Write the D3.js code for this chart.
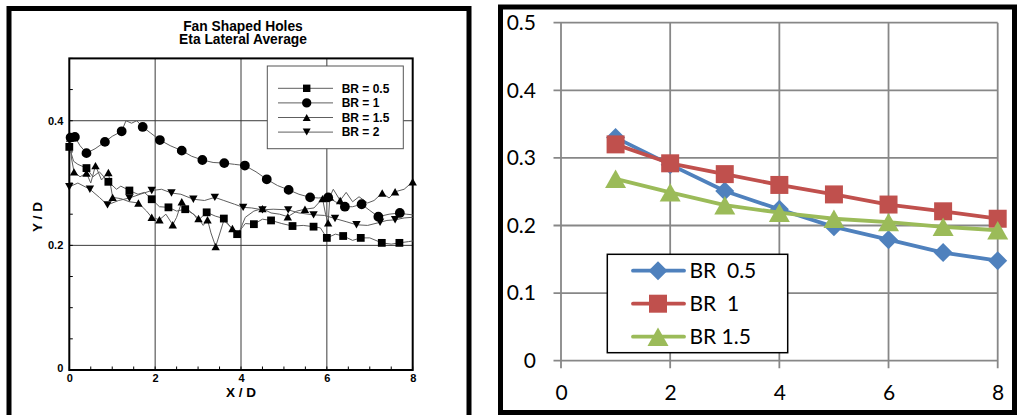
<!DOCTYPE html>
<html>
<head>
<meta charset="utf-8">
<script src="https://cdn.jsdelivr.net/npm/d3@7/dist/d3.min.js"></script>
<style>
  html, body { margin: 0; padding: 0; background: #fff; }
  svg { display: block; }
  .lp text { font-family: "Liberation Sans", Arial, sans-serif; font-weight: bold; fill: #000; }
  .rp text { font-family: Lato, "Open Sans", sans-serif; fill: #000; white-space: pre; }
</style>
</head>
<body>
<svg id="chart" width="1019" height="415"></svg>
<script>
// ---------- Left panel: Fan Shaped Holes, Eta lateral average ----------
const leftTitle = ["Fan Shaped Holes", "Eta Lateral Average"];
const leftXTicks = [0, 2, 4, 6, 8];
const leftYTicks = [0, 0.2, 0.4];
const leftXMinor = d3.range(0, 8.01, 0.5);
const leftYMinor = d3.range(0, 0.501, 0.05);
const leftNames = ["BR = 0.5", "BR = 1", "BR = 1.5", "BR = 2"];

// symbol points (X/D, Y/D)
const br05Marks = [[0,0.358],[0.40,0.324],[0.91,0.302],[1.40,0.288],[1.92,0.274],[2.31,0.261],[2.70,0.258],[3.20,0.253],[3.60,0.243],[3.91,0.218],[4.30,0.234],[4.70,0.240],[5.20,0.231],[5.69,0.230],[6.00,0.212],[6.38,0.215],[6.79,0.212],[7.28,0.204],[7.69,0.204]];
const br1Marks = [[0.03,0.373],[0.13,0.374],[0.40,0.348],[0.83,0.366],[1.22,0.383],[1.71,0.390],[2.11,0.369],[2.62,0.352],[3.10,0.337],[3.61,0.332],[4.09,0.328],[4.60,0.306],[5.11,0.289],[5.61,0.277],[6.03,0.277],[6.42,0.262],[6.81,0.266],[7.20,0.246],[7.70,0.252]];
const br15Marks = [[0.02,0.372],[0.11,0.318],[0.40,0.316],[0.61,0.328],[0.91,0.317],[1.01,0.277],[1.61,0.268],[1.92,0.245],[2.10,0.241],[2.41,0.233],[2.62,0.270],[3.01,0.243],[3.22,0.241],[3.41,0.198],[3.80,0.227],[4.50,0.259],[5.09,0.246],[5.49,0.258],[5.90,0.275],[6.03,0.236],[6.07,0.278],[6.31,0.272],[7.29,0.284],[7.59,0.286],[8.0,0.302]];
const br2Marks = [[0,0.294],[0.48,0.290],[0.89,0.265],[1.40,0.276],[1.92,0.288],[2.38,0.284],[2.89,0.274],[3.39,0.277],[4.05,0.261],[4.50,0.257],[5.10,0.257],[5.69,0.249],[6.19,0.243],[6.69,0.233],[7.24,0.237],[7.59,0.241]];

// additional measured points between symbols (line only)
const br05Trace = [[0.1,0.335],[0.2,0.33],[0.55,0.31],[0.7,0.318],[1.1,0.29],[1.2,0.295],[1.6,0.282],[1.75,0.285],[2.1,0.262],[2.5,0.255],[2.9,0.25],[3.0,0.24],[3.4,0.247],[3.75,0.23],[4.1,0.235],[4.5,0.242],[4.95,0.235],[5.45,0.232],[5.85,0.228],[6.2,0.218],[6.6,0.208],[7.0,0.212],[7.5,0.202],[7.9,0.206],[8.0,0.207]];
const br1Trace = [[0.25,0.36],[0.6,0.355],[1.0,0.375],[1.32,0.40],[1.45,0.396],[1.57,0.40],[1.9,0.38],[2.35,0.36],[2.85,0.343],[3.35,0.333],[3.85,0.33],[4.35,0.318],[4.85,0.296],[5.35,0.282],[5.8,0.276],[6.2,0.27],[6.6,0.262],[7.0,0.256],[7.45,0.25],[7.85,0.25],[8.0,0.249]];
const br15Trace = [[0.05,0.34],[0.25,0.31],[0.5,0.30],[0.75,0.305],[1.2,0.275],[1.4,0.27],[1.8,0.255],[2.25,0.25],[2.5,0.245],[2.8,0.255],[3.12,0.232],[3.3,0.22],[3.6,0.24],[3.95,0.22],[4.1,0.245],[4.3,0.255],[4.7,0.252],[4.9,0.25],[5.3,0.255],[5.7,0.26],[5.97,0.25],[6.15,0.29],[6.45,0.285],[6.6,0.27],[6.75,0.278],[6.95,0.268],[7.1,0.272],[7.45,0.276],[7.8,0.29]];
const br2Trace = [[0.2,0.30],[0.7,0.277],[1.15,0.272],[1.65,0.282],[2.15,0.29],[2.6,0.282],[3.15,0.272],[3.6,0.272],[3.85,0.266],[4.25,0.26],[4.75,0.258],[5.35,0.252],[5.95,0.248],[6.45,0.238],[6.95,0.232],[7.4,0.24],[7.8,0.244],[8.0,0.245]];

// ---------- Right panel ----------
const rightX = [1, 2, 3, 4, 5, 6, 7, 8];
const rightXTicks = [0, 2, 4, 6, 8];
const rightYTicks = [0, 0.1, 0.2, 0.3, 0.4, 0.5];
const rightNames = ["BR  0.5", "BR  1", "BR 1.5"];
const br05Right = [0.330, 0.290, 0.251, 0.224, 0.198, 0.179, 0.160, 0.148];
const br1Right  = [0.320, 0.292, 0.276, 0.260, 0.246, 0.231, 0.221, 0.210];
const br15Right = [0.269, 0.249, 0.230, 0.219, 0.210, 0.205, 0.198, 0.193];

const svg = d3.select("#chart");

// marker path generator
function marker(shape, cx, cy, s) {
  const h = s / 2;
  switch (shape) {
    case "square": return `M${cx-h},${cy-h}H${cx+h}V${cy+h}H${cx-h}Z`;
    case "diamond": return `M${cx},${cy-h}L${cx+h},${cy}L${cx},${cy+h}L${cx-h},${cy}Z`;
    case "up": { const th = s * 0.88; return `M${cx-h},${cy+th/2}L${cx},${cy-th/2}L${cx+h},${cy+th/2}Z`; }
    case "down": { const th = s * 0.88; return `M${cx-h},${cy-th/2}L${cx},${cy+th/2}L${cx+h},${cy-th/2}Z`; }
    case "circle": return `M${cx-h},${cy}A${h},${h} 0 1,0 ${cx+h},${cy}A${h},${h} 0 1,0 ${cx-h},${cy}Z`;
  }
}

// ===== Left panel =====
const L = svg.append("g").attr("class", "lp");
L.append("path").attr("d", "M9,415V8.5H469V415")
  .attr("fill", "none").attr("stroke", "#000").attr("stroke-width", 5);

const lx = d3.scaleLinear().domain([0, 8]).range([69.3, 412.7]);
const ly = d3.scaleLinear().domain([0, 0.5]).range([370, 58.4]);

L.selectAll("text.title").data(leftTitle).join("text").attr("class", "title")
  .attr("x", 243).attr("y", (d, i) => 30.5 + i * 13.5)
  .attr("text-anchor", "middle").attr("font-size", 13.8).text(d => d);

// grid
L.append("g").selectAll("line").data(leftXTicks.slice(1, -1)).join("line")
  .attr("x1", d => lx(d)).attr("x2", d => lx(d)).attr("y1", ly(0.5)).attr("y2", ly(0))
  .attr("stroke", "#3a3a3a").attr("stroke-width", 1);
L.append("g").selectAll("line").data(leftYTicks.slice(1)).join("line")
  .attr("x1", lx(0)).attr("x2", lx(8)).attr("y1", d => ly(d)).attr("y2", d => ly(d))
  .attr("stroke", "#3a3a3a").attr("stroke-width", 1);

// minor ticks
L.append("g").selectAll("line").data(leftXMinor).join("line")
  .attr("x1", d => lx(d)).attr("x2", d => lx(d)).attr("y1", ly(0)).attr("y2", ly(0) - 3.5)
  .attr("stroke", "#000").attr("stroke-width", 1);
L.append("g").selectAll("line").data(leftYMinor).join("line")
  .attr("x1", lx(0)).attr("x2", lx(0) + 3.5).attr("y1", d => ly(d)).attr("y2", d => ly(d))
  .attr("stroke", "#000").attr("stroke-width", 1);

// axes via d3 axis generators (labels only, box drawn below)
const lxAxis = L.append("g").attr("transform", `translate(0,${ly(0)})`)
  .call(d3.axisBottom(lx).tickValues(leftXTicks).tickSize(0).tickPadding(4).tickFormat(d3.format("d")));
const lyAxis = L.append("g").attr("transform", `translate(${lx(0)},0)`)
  .call(d3.axisLeft(ly).tickValues(leftYTicks).tickSize(0).tickPadding(6).tickFormat(d => d === 0 ? "0" : d3.format(".1f")(d)));
[lxAxis, lyAxis].forEach(a => {
  a.select(".domain").remove();
  a.selectAll("text").attr("font-size", 11).attr("font-family", "Liberation Sans, Arial, sans-serif").attr("font-weight", "bold");
});
lyAxis.selectAll(".tick").filter(d => d === 0).select("text").attr("dy", "0.1em");

L.append("rect").attr("x", lx(0)).attr("y", ly(0.5)).attr("width", lx(8) - lx(0)).attr("height", ly(0) - ly(0.5))
  .attr("fill", "none").attr("stroke", "#000").attr("stroke-width", 2);

L.append("text").attr("x", 241).attr("y", 397).attr("text-anchor", "middle").attr("font-size", 13.5).text("X / D");
L.append("text").attr("transform", "translate(41.5,217) rotate(-90)").attr("text-anchor", "middle").attr("font-size", 13.5).text("Y / D");

const leftSeries = [
  { marks: br05Marks, trace: br05Trace, shape: "square", size: 7.8 },
  { marks: br1Marks, trace: br1Trace, shape: "circle", size: 9.8 },
  { marks: br15Marks, trace: br15Trace, shape: "up", size: 8.4 },
  { marks: br2Marks, trace: br2Trace, shape: "down", size: 8.4 }
];
const lline = d3.line().x(d => lx(d[0])).y(d => ly(d[1]));
leftSeries.forEach(s => {
  const pts = s.marks.concat(s.trace).sort((a, b) => a[0] - b[0]);
  L.append("path").attr("d", lline(pts)).attr("fill", "none").attr("stroke", "#5e5e5e").attr("stroke-width", 1);
});
leftSeries.forEach(s => {
  L.append("g").selectAll("path").data(s.marks).join("path")
    .attr("d", d => marker(s.shape, lx(d[0]), ly(d[1]), s.size)).attr("fill", "#000");
});

// legend
const lleg = L.append("g");
lleg.append("rect").attr("x", 267.3).attr("y", 66).attr("width", 136).attr("height", 82.7)
  .attr("fill", "#fff").attr("stroke", "#555").attr("stroke-width", 1);
leftNames.forEach((n, i) => {
  const y = 88.3 + i * 14.6;
  lleg.append("line").attr("x1", 278).attr("x2", 333).attr("y1", y).attr("y2", y).attr("stroke", "#5e5e5e").attr("stroke-width", 1);
  lleg.append("path").attr("d", marker(leftSeries[i].shape, 306.7, y, leftSeries[i].size * 0.95)).attr("fill", "#000");
  lleg.append("text").attr("x", 341.7).attr("y", y).attr("dy", "0.35em").attr("font-size", 12).text(n);
});

// ===== Right panel =====
const R = svg.append("g").attr("class", "rp");
R.append("path").attr("d", "M500.5,415V7H1014.5V412.5H500.5")
  .attr("fill", "none").attr("stroke", "#000").attr("stroke-width", 5);

const rx = d3.scaleLinear().domain([0, 8]).range([561, 997.7]);
const ry = d3.scaleLinear().domain([0, 0.5]).range([360.7, 22.7]);
const gridC = "#878787";

R.append("g").selectAll("line").data(rightXTicks).join("line")
  .attr("x1", d => rx(d)).attr("x2", d => rx(d)).attr("y1", ry(0.5)).attr("y2", ry(0) + 7.5)
  .attr("stroke", gridC).attr("stroke-width", 1.8);
R.append("g").selectAll("line").data(rightYTicks).join("line")
  .attr("x1", rx(0) - 7.5).attr("x2", rx(8)).attr("y1", d => ry(d)).attr("y2", d => ry(d))
  .attr("stroke", gridC).attr("stroke-width", 1.8);

const rxAxis = R.append("g").attr("transform", `translate(0,${ry(0)})`)
  .call(d3.axisBottom(rx).tickValues(rightXTicks).tickSize(0).tickPadding(24).tickFormat(d3.format("d")));
const ryAxis = R.append("g").attr("transform", `translate(${rx(0)},0)`)
  .call(d3.axisLeft(ry).tickValues(rightYTicks).tickSize(0).tickPadding(25).tickFormat(d => d === 0 ? "0" : d3.format(".1f")(d)));
[rxAxis, ryAxis].forEach(a => {
  a.select(".domain").remove();
  a.selectAll("text").attr("font-size", 21).attr("font-family", "Lato, 'Open Sans', sans-serif").attr("fill", "#000");
});

const rightSeries = [
  { vals: br05Right, color: "#4F81BD", shape: "diamond", size: 19 },
  { vals: br1Right, color: "#C0504D", shape: "square", size: 18 },
  { vals: br15Right, color: "#9BBB59", shape: "up", size: 21 }
];
const rline = d3.line().x((d, i) => rx(rightX[i])).y(d => ry(d));
rightSeries.forEach(s => {
  R.append("path").attr("d", rline(s.vals)).attr("fill", "none").attr("stroke", s.color)
    .attr("stroke-width", 3.8).attr("stroke-linejoin", "round").attr("stroke-linecap", "round");
  R.append("g").selectAll("path").data(s.vals).join("path")
    .attr("d", (d, i) => marker(s.shape, rx(rightX[i]), ry(d), s.size)).attr("fill", s.color);
});

const rleg = R.append("g");
rleg.append("rect").attr("x", 607.3).attr("y", 254.3).attr("width", 180.4).attr("height", 98.4)
  .attr("fill", "#fff").attr("stroke", "#000").attr("stroke-width", 1.5);
rightNames.forEach((n, i) => {
  const y = 270.7 + i * 33;
  const s = rightSeries[i];
  rleg.append("line").attr("x1", 633).attr("x2", 684).attr("y1", y).attr("y2", y)
    .attr("stroke", s.color).attr("stroke-width", 3.8).attr("stroke-linecap", "round");
  rleg.append("path").attr("d", marker(s.shape, 658, y, s.size)).attr("fill", s.color);
  rleg.append("text").attr("x", 689.5).attr("y", y).attr("dy", "0.36em").attr("font-size", 21).text(n);
});
</script>
</body>
</html>
